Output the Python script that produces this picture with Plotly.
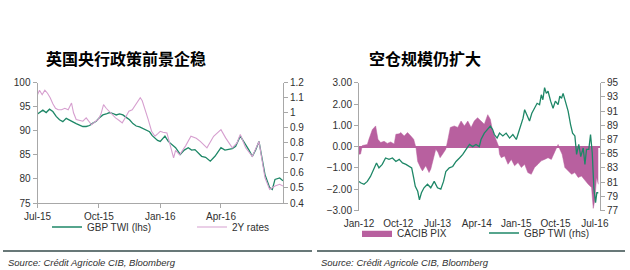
import plotly.graph_objects as go

# ---------------- Left chart data ----------------
left_title = "英国央行政策前景企稳"
gbp_l_dates = ["2015-07-01","2015-07-05","2015-07-09","2015-07-14","2015-07-19","2015-07-24","2015-07-29",
               "2015-08-03","2015-08-08","2015-08-13","2015-08-18","2015-08-23","2015-08-28","2015-09-02",
               "2015-09-07","2015-09-12","2015-09-17","2015-09-22","2015-09-27","2015-10-01","2015-10-07",
               "2015-10-12","2015-10-17","2015-10-22","2015-10-27","2015-11-01","2015-11-06","2015-11-11",
               "2015-11-16","2015-11-21","2015-11-26","2015-12-01","2015-12-06","2015-12-11","2015-12-16",
               "2015-12-20","2015-12-24","2015-12-28","2016-01-01","2016-01-05","2016-01-08","2016-01-13",
               "2016-01-18","2016-01-24","2016-01-31","2016-02-06","2016-02-12","2016-02-17","2016-02-22",
               "2016-02-27","2016-03-03","2016-03-09","2016-03-16","2016-03-23","2016-03-27","2016-04-01",
               "2016-04-07","2016-04-13","2016-04-18","2016-04-23","2016-04-30","2016-05-04","2016-05-08",
               "2016-05-13","2016-05-18","2016-05-23","2016-05-28","2016-06-03","2016-06-06","2016-06-13",
               "2016-06-17","2016-06-21","2016-06-28","2016-07-03"]
gbp_l_vals = [93.5,93.9,94.3,93.8,94.5,94.0,93.0,
              92.3,91.9,92.6,92.2,91.9,91.5,91.2,
              90.9,90.9,91.1,91.6,92.0,92.6,93.3,
              93.5,93.8,93.6,93.3,93.5,93.3,92.8,
              92.3,91.5,91.0,90.8,90.5,90.2,89.8,
              89.0,88.5,88.0,87.8,88.5,88.9,87.8,
              87.2,86.5,85.1,86.0,86.5,86.0,86.1,
              85.5,84.7,84.5,83.7,84.7,85.5,86.5,
              86.0,86.1,86.3,86.8,88.9,88.0,87.2,
              86.0,84.7,86.0,87.8,83.4,80.9,78.2,
              77.8,79.9,80.2,79.6]

r2y_dates = ["2015-07-01","2015-07-04","2015-07-08","2015-07-12","2015-07-16","2015-07-20","2015-07-24",
             "2015-07-28","2015-08-01","2015-08-06","2015-08-11","2015-08-16","2015-08-21","2015-08-24",
             "2015-08-28","2015-09-02","2015-09-07","2015-09-12","2015-09-16","2015-09-20","2015-09-25",
             "2015-09-30","2015-10-04","2015-10-08","2015-10-12","2015-10-16","2015-10-21","2015-10-26",
             "2015-10-31","2015-11-05","2015-11-10","2015-11-15","2015-11-20","2015-11-25","2015-12-02",
             "2015-12-05","2015-12-07","2015-12-14","2015-12-19","2015-12-24","2015-12-28","2016-01-01",
             "2016-01-05","2016-01-11","2016-01-15","2016-01-21","2016-01-24","2016-01-30","2016-02-08",
             "2016-02-16","2016-02-24","2016-03-01","2016-03-11","2016-03-21","2016-04-01","2016-04-08",
             "2016-04-18","2016-04-25","2016-04-30","2016-05-08","2016-05-18","2016-05-28","2016-06-06",
             "2016-06-13","2016-06-21","2016-06-28","2016-07-03"]
r2y_vals = [1.12,1.15,1.12,1.15,1.13,1.10,1.06,
            1.03,1.02,1.02,1.03,1.02,1.065,1.00,
            0.955,0.95,0.944,0.966,0.94,0.92,0.94,
            0.955,0.99,1.054,1.03,1.01,0.99,0.966,
            0.95,0.933,0.97,1.01,1.02,1.054,1.10,
            1.08,1.054,0.955,0.877,0.844,0.86,0.877,
            0.87,0.866,0.80,0.70,0.75,0.72,0.78,
            0.844,0.83,0.81,0.767,0.844,0.888,0.833,
            0.767,0.80,0.855,0.767,0.71,0.81,0.568,
            0.49,0.513,0.524,0.513]

left_x_tickvals = ["2015-07-01","2015-10-01","2016-01-01","2016-04-01"]
left_x_ticktext = ["Jul-15","Oct-15","Jan-16","Apr-16"]
left_y_ticks = [75,80,85,90,95,100]
left_y2_tickvals = [0.4,0.5,0.6,0.7,0.8,0.9,1.0,1.1,1.2]
left_y2_ticktext = ["0.4","0.5","0.6","0.7","0.8","0.9","1","1.1","1.2"]

# ---------------- Right chart data ----------------
right_title = "空仓规模仍扩大"
pix_dates = ["2012-01-01","2012-01-12","2012-01-24","2012-02-28","2012-03-10","2012-04-03","2012-04-26",
             "2012-05-12","2012-05-31","2012-06-24","2012-07-16","2012-08-09","2012-09-02","2012-09-14",
             "2012-10-07","2012-10-18","2012-11-11","2012-12-04","2012-12-27","2013-01-16","2013-02-01",
             "2013-02-13","2013-03-06","2013-03-18","2013-04-10","2013-05-03","2013-05-15","2013-06-03",
             "2013-06-19","2013-07-05","2013-07-19","2013-08-05","2013-08-28","2013-09-14","2013-09-28",
             "2013-10-26","2013-11-19","2013-12-12","2014-01-04","2014-01-28","2014-02-20","2014-03-14",
             "2014-04-06","2014-04-30","2014-05-23","2014-06-16","2014-07-04","2014-07-20","2014-08-13",
             "2014-08-30","2014-09-06","2014-09-18","2014-10-11","2014-11-04","2014-11-27","2014-12-20",
             "2015-01-13","2015-02-05","2015-02-28","2015-03-22","2015-04-15","2015-05-08","2015-06-01",
             "2015-06-24","2015-07-17","2015-08-10","2015-09-02","2015-09-26","2015-10-19","2015-10-31",
             "2015-11-16","2015-12-05","2015-12-28","2016-01-21","2016-02-13","2016-03-07","2016-03-30",
             "2016-04-23","2016-05-16","2016-06-08","2016-06-20","2016-07-01","2016-07-13","2016-07-25"]
pix_vals = [-0.36,-0.35,0.05,0.10,0.34,0.80,0.97,
            0.34,0.19,0.25,0.15,0.22,0.12,0.58,
            0.60,0.66,0.50,0.66,0.50,0.34,-0.05,
            -0.70,-1.00,-1.14,-0.90,-1.22,-1.06,-0.52,
            -0.12,-0.28,-0.52,-0.36,-0.12,0.42,0.90,
            0.97,0.90,1.20,0.97,1.20,0.90,1.20,
            1.36,1.20,1.05,1.50,1.28,0.73,0.27,
            0.03,-0.36,-0.52,-0.44,-0.83,-0.60,-0.90,
            -0.75,-0.98,-0.83,-1.22,-1.30,-0.98,-0.83,
            -0.67,-0.60,-0.52,-0.60,-0.28,0.10,-0.12,
            -0.36,-0.98,-1.14,-1.30,-1.22,-1.45,-1.38,
            -1.61,-1.77,-1.92,-2.90,-2.50,-1.45,-1.77]

gbp_r_dates = ["2012-01-01","2012-01-12","2012-02-05","2012-02-28","2012-03-21","2012-04-14","2012-05-02",
               "2012-05-19","2012-06-11","2012-07-04","2012-07-28","2012-08-21","2012-09-14","2012-10-07",
               "2012-10-30","2012-11-23","2012-12-16","2013-01-02","2013-01-16","2013-01-27","2013-02-13",
               "2013-02-25","2013-03-11","2013-03-29","2013-04-22","2013-05-15","2013-06-08","2013-07-01",
               "2013-07-24","2013-08-12","2013-08-28","2013-09-21","2013-10-15","2013-11-07","2013-12-01",
               "2013-12-24","2014-01-16","2014-02-09","2014-03-03","2014-03-26","2014-04-18","2014-04-30",
               "2014-05-23","2014-06-16","2014-07-04","2014-07-20","2014-08-01","2014-08-20","2014-09-06",
               "2014-09-29","2014-10-22","2014-11-15","2014-12-08","2015-01-01","2015-01-24","2015-02-17",
               "2015-02-28","2015-03-17","2015-04-03","2015-04-19","2015-05-08","2015-05-26","2015-06-12",
               "2015-06-24","2015-07-05","2015-07-17","2015-07-29","2015-08-10","2015-08-28","2015-09-14",
               "2015-09-30","2015-10-19","2015-10-31","2015-11-12","2015-11-23","2015-12-09","2015-12-28",
               "2016-01-14","2016-01-28","2016-02-13","2016-02-25","2016-03-11","2016-03-25","2016-04-11",
               "2016-04-23","2016-05-04","2016-05-20","2016-06-01","2016-06-13","2016-06-24","2016-07-06",
               "2016-07-15","2016-07-25"]
gbp_r_vals = [81.1,80.9,80.7,81.1,81.8,83.0,83.7,
              83.0,83.5,84.4,84.2,84.4,83.9,84.2,
              83.7,83.5,83.2,83.0,81.6,80.4,79.7,
              78.5,79.5,80.2,80.7,80.2,81.1,80.2,
              80.0,81.1,82.5,83.0,83.2,83.9,84.4,
              84.9,85.6,86.3,86.0,86.3,86.0,87.0,
              87.9,88.4,88.9,88.4,87.7,87.2,87.9,
              87.5,87.9,87.2,87.7,87.0,88.6,90.0,
              91.2,90.5,89.6,90.7,91.4,92.1,91.9,
              93.3,92.6,94.3,93.5,93.8,92.4,91.4,
              92.4,91.9,93.1,92.8,93.5,92.4,91.0,
              89.1,87.9,87.5,84.9,86.3,84.6,85.8,
              83.5,85.6,85.6,87.7,85.1,80.2,78.1,
              79.5,79.5]

right_x_tickvals = ["2012-01-01","2012-10-01","2013-07-01","2014-04-01","2015-01-01","2015-10-01","2016-07-01"]
right_x_ticktext = ["Jan-12","Oct-12","Jul-13","Apr-14","Jan-15","Oct-15","Jul-16"]
right_y_ticks = [-3,-2,-1,0,1,2,3]
right_y2_ticks = [77,79,81,83,85,87,89,91,93,95]

source_text = "Source: Crédit Agricole CIB, Bloomberg"

# ---------------- Styles ----------------
GREEN = "#1e8767"
PINK = "#d69fcf"
AREA = "#b8609f"
AXIS = "#a8a8a8"
TXT = "#303030"
FONT = "Liberation Sans, Arial, sans-serif"
W, H = 630, 270

def px_x(v):
    return v / W

def px_y(v):
    return 1 - v / H

fig = go.Figure()
fig.add_trace(go.Scatter(x=gbp_l_dates, y=gbp_l_vals, mode="lines", name="GBP TWI (lhs)",
                         line=dict(color=GREEN, width=1.3), xaxis="x", yaxis="y", legend="legend"))
fig.add_trace(go.Scatter(x=r2y_dates, y=r2y_vals, mode="lines", name="2Y rates",
                         line=dict(color=PINK, width=1.1), xaxis="x", yaxis="y2", legend="legend"))
fig.add_trace(go.Scatter(x=pix_dates, y=pix_vals, mode="lines", name="CACIB PIX", fill="tozeroy",
                         fillcolor=AREA, line=dict(color=AREA, width=0.5), xaxis="x2", yaxis="y3",
                         legend="legend2"))
fig.add_trace(go.Scatter(x=gbp_r_dates, y=gbp_r_vals, mode="lines", name="GBP TWI (rhs)",
                         line=dict(color=GREEN, width=1.3), xaxis="x2", yaxis="y4", legend="legend2"))

tickfont = dict(family=FONT, size=10, color=TXT)
common = dict(showgrid=False, zeroline=False, showline=True, linecolor=AXIS, linewidth=1,
              ticks="outside", ticklen=4, tickcolor=AXIS, tickfont=tickfont, automargin=False)

ldom_y = [px_y(203), px_y(82.7)]
rdom_y = [px_y(210.5), px_y(82.7)]

fig.update_layout(
    width=W, height=H, margin=dict(l=0, r=0, t=0, b=0, autoexpand=False),
    paper_bgcolor="white", plot_bgcolor="white",
    xaxis=dict(domain=[px_x(37.5), px_x(283)], anchor="y", type="date",
               range=["2015-07-01", "2016-07-03"], tickvals=left_x_tickvals, ticktext=left_x_ticktext,
               tickangle=0, **common),
    yaxis=dict(domain=ldom_y, anchor="x", range=[75, 100], tickvals=left_y_ticks, **common),
    yaxis2=dict(overlaying="y", side="right", anchor="x", range=[0.4, 1.2],
                tickvals=left_y2_tickvals, ticktext=left_y2_ticktext, **common),
    xaxis2=dict(domain=[px_x(359), px_x(600)], anchor="y3", type="date",
                range=["2012-01-01", "2016-08-06"], tickvals=right_x_tickvals, ticktext=right_x_ticktext,
                showgrid=False, zeroline=False, showline=False, ticks="", tickfont=tickfont,
                tickangle=0, automargin=False, ticklabelstandoff=5),
    yaxis3=dict(domain=rdom_y, anchor="x2", range=[-3, 3], tickvals=right_y_ticks, tickformat=".2f",
                **{**common, "zeroline": True, "zerolinecolor": AREA, "zerolinewidth": 1.5}),
    yaxis4=dict(overlaying="y3", side="right", anchor="x2", range=[77, 95], tickvals=right_y2_ticks,
                **common),
    legend=dict(x=px_x(47), y=px_y(227), xanchor="left", yanchor="middle", orientation="h",
                entrywidth=100, entrywidthmode="pixels", font=dict(family=FONT, size=10, color=TXT),
                bgcolor="rgba(0,0,0,0)", itemwidth=30, tracegroupgap=0),
    legend2=dict(x=px_x(357), y=px_y(233), xanchor="left", yanchor="middle", orientation="h",
                 entrywidth=82, entrywidthmode="pixels", font=dict(family=FONT, size=10, color=TXT),
                 bgcolor="rgba(0,0,0,0)", itemwidth=30, tracegroupgap=0),
    showlegend=True,
)

annotations = [
    dict(text=left_title, x=px_x(126), y=px_y(58), xref="paper", yref="paper", showarrow=False,
         xanchor="center", yanchor="middle",
         font=dict(family="Noto Sans CJK SC", size=16, color="#000000", weight="bold")),
    dict(text=right_title, x=px_x(425), y=px_y(58), xref="paper", yref="paper", showarrow=False,
         xanchor="center", yanchor="middle",
         font=dict(family="Noto Sans CJK SC", size=16, color="#000000", weight="bold")),
    dict(text="<i>" + source_text + "</i>", x=px_x(6), y=px_y(262), xref="paper", yref="paper",
         showarrow=False, xanchor="left", yanchor="middle", font=dict(family=FONT, size=9.5, color=TXT)),
    dict(text="<i>" + source_text + "</i>", x=px_x(319), y=px_y(262), xref="paper", yref="paper",
         showarrow=False, xanchor="left", yanchor="middle", font=dict(family=FONT, size=9.5, color=TXT)),
]
fig.update_layout(annotations=annotations)

RULE = "#687878"
fig.update_layout(shapes=[
    dict(type="line", xref="paper", yref="paper", x0=px_x(3), x1=px_x(312), y0=px_y(251), y1=px_y(251),
         line=dict(color=RULE, width=2)),
    dict(type="line", xref="paper", yref="paper", x0=px_x(317), x1=px_x(625), y0=px_y(251), y1=px_y(251),
         line=dict(color=RULE, width=2)),
])

fig.write_html("out.html")
